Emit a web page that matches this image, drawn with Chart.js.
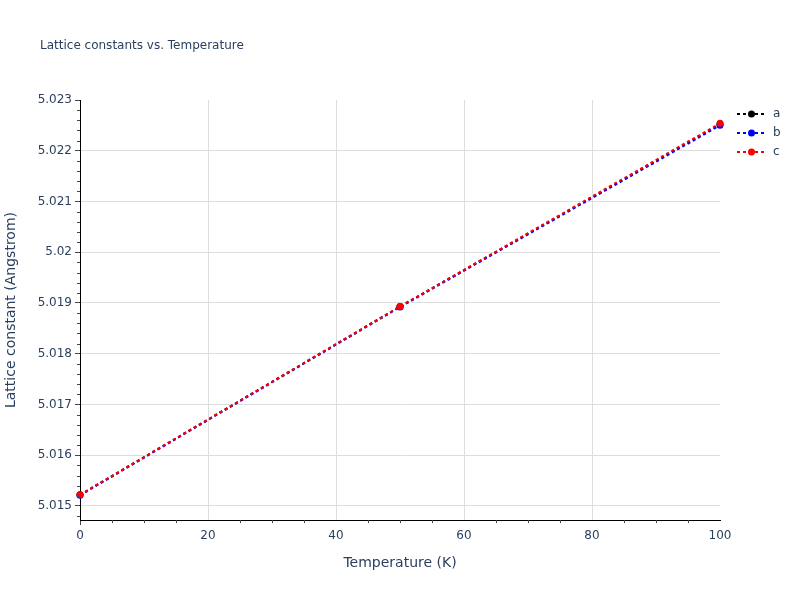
<!DOCTYPE html>
<html>
<head>
<meta charset="utf-8">
<script src="https://cdn.jsdelivr.net/npm/chart.js@4.4.0/dist/chart.umd.min.js"></script>
<style>
  html, body { margin: 0; padding: 0; background: #fff; }
  #wrap { width: 800px; height: 600px; position: relative; }
</style>
</head>
<body>
<div id="wrap"><canvas id="c" width="800" height="600"></canvas></div>
<script>
const chartTitle = 'Lattice constants vs. Temperature';
const xTitle = 'Temperature (K)';
const yTitle = 'Lattice constant (Angstrom)';
const temperatures = [0, 50, 100];
const seriesNames = ['a', 'b', 'c'];
const aValues = [5.01522, 5.01893, 5.02252];
const bValues = [5.01521, 5.01892, 5.02250];
const cValues = [5.01522, 5.01893, 5.02254];
const seriesColors = ['#000000', '#0000ff', '#ff0000'];
const xMajorTicks = [0, 20, 40, 60, 80, 100];
const yMajorTicks = [5.015, 5.016, 5.017, 5.018, 5.019, 5.020, 5.021, 5.022, 5.023];
const xRange = [0, 100];
const yRange = [5.014724, 5.023];

const TXT = '#2a3f5f';
const FONT = '"DejaVu Sans", Verdana, sans-serif';

const allValues = [aValues, bValues, cValues];
const datasets = seriesNames.map((n, i) => ({
  label: n,
  data: temperatures.map((t, j) => ({x: t, y: allValues[i][j]})),
  order: seriesNames.length - i,
  borderColor: seriesColors[i],
  backgroundColor: seriesColors[i],
  borderWidth: 2,
  borderDash: [3, 3],
  pointRadius: 3.5,
  pointHoverRadius: 3.5,
  pointBorderWidth: 0,
  showLine: true,
  clip: false,
  tension: 0
}));

const extras = {
  id: 'extras',
  afterDraw(chart) {
    const ctx = chart.ctx;
    const xs = chart.scales.x, ys = chart.scales.y;
    const ca = chart.chartArea;
    ctx.save();
    // minor ticks
    ctx.strokeStyle = '#444';
    ctx.lineWidth = 1;
    ctx.beginPath();
    for (let k = 1; k < 20; k++) {
      const v = k * 5;
      if (v % 20 === 0) continue;
      const px = Math.round(xs.getPixelForValue(v)) + 0.5;
      ctx.moveTo(px, ca.bottom);
      ctx.lineTo(px, ca.bottom + 3);
    }
    for (let k = 0; k <= 41; k++) {
      const v = 5.0148 + k * 0.0002;
      if (v > yRange[1] + 1e-9) break;
      const r = Math.round(v * 10000) / 10000;
      if (Math.abs(r * 1000 - Math.round(r * 1000)) < 1e-6) continue;
      const py = Math.round(ys.getPixelForValue(v)) + 0.5;
      ctx.moveTo(ca.left, py);
      ctx.lineTo(ca.left - 3, py);
    }
    ctx.stroke();
    // title
    ctx.fillStyle = TXT;
    ctx.font = '12px ' + FONT;
    ctx.textAlign = 'left';
    ctx.textBaseline = 'middle';
    ctx.fillText(chartTitle, 40, 46);
    // legend
    seriesNames.forEach((n, i) => {
      const y = 114 + i * 19;
      ctx.strokeStyle = seriesColors[i];
      ctx.lineWidth = 2;
      ctx.setLineDash([3, 3]);
      ctx.beginPath();
      ctx.moveTo(737, y);
      ctx.lineTo(766, y);
      ctx.stroke();
      ctx.setLineDash([]);
      ctx.fillStyle = seriesColors[i];
      ctx.beginPath();
      ctx.arc(751.5, y, 3.5, 0, Math.PI * 2);
      ctx.fill();
      ctx.fillStyle = TXT;
      ctx.font = '12px ' + FONT;
      ctx.fillText(n, 773, y);
    });
    ctx.restore();
  }
};

new Chart(document.getElementById('c'), {
  type: 'scatter',
  data: { datasets },
  plugins: [extras],
  options: {
    responsive: false,
    animation: false,
    devicePixelRatio: 1,
    layout: { padding: { left: 0, right: 80, top: 100, bottom: 0 } },
    plugins: { legend: { display: false }, title: { display: false }, tooltip: { enabled: false } },
    scales: {
      x: {
        type: 'linear',
        min: xRange[0], max: xRange[1],
        afterBuildTicks: s => { s.ticks = xMajorTicks.map(v => ({value: v})); },
        afterFit: s => { s.height = 80; },
        border: { color: '#000', width: 1 },
        grid: {
          color: c => (c.tick && (c.tick.value === 0 || c.tick.value === 100)) ? 'rgba(0,0,0,0)' : '#dddddd',
          tickColor: c => (c.tick && c.tick.value === 0) ? '#444' : 'rgba(0,0,0,0)',
          tickLength: 5, lineWidth: 1
        },
        ticks: { color: TXT, font: { family: FONT, size: 12 }, padding: 4, maxRotation: 0,
                 callback: v => String(v) },
        title: { display: true, text: xTitle, color: TXT, font: { family: FONT, size: 14 },
                 padding: { top: 0, bottom: 28.6 } }
      },
      y: {
        type: 'linear',
        min: yRange[0], max: yRange[1],
        afterBuildTicks: s => { s.ticks = yMajorTicks.map(v => ({value: v})); },
        afterFit: s => { s.width = 80; },
        border: { color: '#000', width: 1 },
        grid: {
          color: c => (c.tick && c.tick.value >= 5.0229) ? 'rgba(0,0,0,0)' : '#dddddd',
          tickColor: '#444',
          tickLength: 5, lineWidth: 1
        },
        ticks: { color: TXT, font: { family: FONT, size: 12 }, padding: 3,
                 callback: v => String(parseFloat(Number(v).toFixed(4))) },
        title: { display: true, text: yTitle, color: TXT, font: { family: FONT, size: 14 },
                 padding: { top: 2.6, bottom: 0 } }
      }
    }
  }
});
</script>
</body>
</html>
